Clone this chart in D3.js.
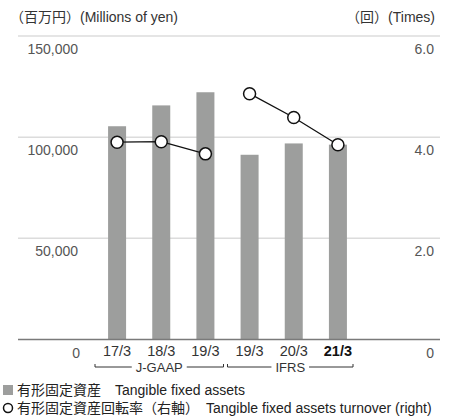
<!DOCTYPE html>
<meta charset="utf-8">
<script src="https://d3js.org/d3.v7.min.js"></script>
<style>
  body { margin: 0; background: #fff; }
  text { font-family: "Liberation Sans", "Noto Sans CJK JP", sans-serif; }
</style>
<div id="my_dataviz"></div>
<script>

  // data
  var periods = ["17/3", "18/3", "19/3", "19/3", "20/3", "21/3"];
  var assets = [105400, 115700, 122200, 91300, 96900, 96300];      // 百万円
  var turnover = [3.90, 3.91, 3.67, 4.86, 4.39, 3.85];             // 回
  var leftTicks = [50000, 100000, 150000];
  var rightTicks = [2.0, 4.0, 6.0];
  var groups = [
    { name: "J-GAAP", from: 0, to: 2 },
    { name: "IFRS", from: 3, to: 5 }
  ];

  var width = 458, height = 420;
  var plotLeft = 18, plotRight = 440, plotTop = 36, plotBottom = 339.5;

  var svg = d3.select("#my_dataviz")
    .append("svg")
    .attr("width", width)
    .attr("height", height);

  var idx = d3.range(periods.length);
  var x = d3.scalePoint().domain(idx).range([95, 360]).padding(0.5);
  var yL = d3.scaleLinear().domain([0, 150000]).range([plotBottom, plotTop]);
  var yR = d3.scaleLinear().domain([0, 6]).range([plotBottom, plotTop]);
  var step = x.step();
  var barW = 18;

  // header units
  svg.append("text").attr("x", 10).attr("y", 22)
    .attr("font-size", 14).attr("fill", "#333")
    .text("（百万円）(Millions of yen)");
  svg.append("text").attr("x", 435).attr("y", 22)
    .attr("font-size", 14).attr("fill", "#333").attr("text-anchor", "end")
    .text("（回）(Times)");

  // gridlines
  svg.append("g").selectAll("line")
    .data(leftTicks)
    .join("line")
    .attr("x1", plotLeft).attr("x2", plotRight)
    .attr("y1", function (d) { return yL(d); })
    .attr("y2", function (d) { return yL(d); })
    .attr("stroke", "#dcdcdc").attr("stroke-width", 1.5);

  // left tick labels
  svg.append("g").selectAll("text")
    .data([0].concat(leftTicks))
    .join("text")
    .attr("x", function (d) { return d === 0 ? 80 : 78; })
    .attr("y", function (d) { return yL(d) + 18; })
    .attr("text-anchor", "end")
    .attr("font-size", 14).attr("fill", "#555")
    .text(function (d) { return d3.format(",")(d); });

  // right tick labels
  svg.append("g").selectAll("text")
    .data([0].concat(rightTicks))
    .join("text")
    .attr("x", 434)
    .attr("y", function (d) { return yR(d) + 18; })
    .attr("text-anchor", "end")
    .attr("font-size", 14).attr("fill", "#555")
    .text(function (d) { return d === 0 ? "0" : d3.format(".1f")(d); });

  // bars
  svg.append("g").selectAll("rect")
    .data(assets)
    .join("rect")
    .attr("x", function (d, i) { return x(i) - barW / 2; })
    .attr("y", function (d) { return yL(d); })
    .attr("width", barW)
    .attr("height", function (d) { return yL(0) - yL(d); })
    .attr("fill", "#9d9e9d");

  // baseline
  svg.append("line")
    .attr("x1", plotLeft).attr("x2", plotRight)
    .attr("y1", yL(0)).attr("y2", yL(0))
    .attr("stroke", "#7a7a7a").attr("stroke-width", 1.5);

  // turnover line, broken between the two standards
  var line = d3.line()
    .x(function (d) { return x(d); })
    .y(function (d) { return yR(turnover[d]); });
  groups.forEach(function (g) {
    svg.append("path")
      .datum(d3.range(g.from, g.to + 1))
      .attr("fill", "none")
      .attr("stroke", "#111")
      .attr("stroke-width", 1.3)
      .attr("d", line);
  });
  svg.append("g").selectAll("circle")
    .data(turnover)
    .join("circle")
    .attr("cx", function (d, i) { return x(i); })
    .attr("cy", function (d) { return yR(d); })
    .attr("r", 6)
    .attr("fill", "#fff")
    .attr("stroke", "#111")
    .attr("stroke-width", 1.5);

  // x labels
  svg.append("g").selectAll("text")
    .data(periods)
    .join("text")
    .attr("x", function (d, i) { return x(i); })
    .attr("y", 356)
    .attr("text-anchor", "middle")
    .attr("font-size", 14.5)
    .attr("font-weight", function (d, i) { return i === periods.length - 1 ? "bold" : "normal"; })
    .attr("fill", function (d, i) { return i === periods.length - 1 ? "#111" : "#333"; })
    .text(function (d) { return d; });

  // accounting standard brackets
  var by = 367;
  groups.forEach(function (g) {
    var x1 = x(g.from) - step / 2, x2 = x(g.to) + step / 2 - (g.name === "IFRS" ? 7 : 4);
    var cx = (x1 + x2) / 2;
    var label = svg.append("text")
      .attr("x", cx).attr("y", by + 5)
      .attr("text-anchor", "middle")
      .attr("font-size", 13).attr("fill", "#333")
      .text(g.name);
    var half = label.node().getComputedTextLength() / 2 + 4;
    svg.append("path")
      .attr("fill", "none").attr("stroke", "#333").attr("stroke-width", 1)
      .attr("d", "M" + x1 + "," + (by - 3) + "V" + by + "H" + (cx - half)
        + "M" + (cx + half) + "," + by + "H" + x2 + "V" + (by - 3));
  });

  // legend
  var legend = svg.append("g");
  legend.append("rect").attr("x", 3).attr("y", 385).attr("width", 10).attr("height", 10)
    .attr("fill", "#9d9e9d");
  legend.append("text").attr("x", 17).attr("y", 395)
    .attr("font-size", 14).attr("fill", "#222")
    .text("有形固定資産　Tangible fixed assets");
  legend.append("circle").attr("cx", 8).attr("cy", 408).attr("r", 4.5)
    .attr("fill", "#fff").attr("stroke", "#111").attr("stroke-width", 1.5);
  legend.append("text").attr("x", 17).attr("y", 413)
    .attr("font-size", 14).attr("fill", "#222")
    .text("有形固定資産回転率（右軸）　Tangible fixed assets turnover (right)");

</script>
